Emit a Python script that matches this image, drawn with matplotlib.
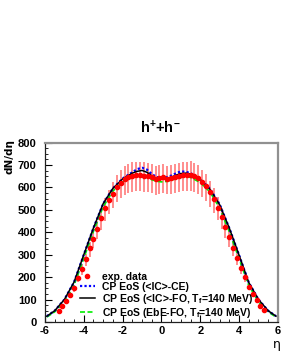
import matplotlib
matplotlib.use("Agg")
import matplotlib.pyplot as plt
from matplotlib.ticker import MultipleLocator

plt.rcParams['font.family'] = ['Liberation Sans', 'DejaVu Sans']
plt.rcParams['font.weight'] = 'bold'
plt.rcParams['axes.unicode_minus'] = False
plt.rcParams['mathtext.fontset'] = 'custom'
plt.rcParams['mathtext.rm'] = 'Liberation Sans:bold'
plt.rcParams['mathtext.bf'] = 'Liberation Sans:bold'
plt.rcParams['mathtext.it'] = 'Liberation Sans:bold'

# ---- experimental data ----
eta_data = [-5.3, -5.1, -4.9, -4.7, -4.5, -4.3, -4.1, -3.9, -3.7, -3.5, -3.3, -3.1,
            -2.9, -2.7, -2.5, -2.3, -2.1, -1.9, -1.7, -1.5, -1.3, -1.1, -0.9, -0.7,
            -0.5, -0.3, -0.1, 0.1, 0.3, 0.5, 0.7, 0.9, 1.1, 1.3, 1.5, 1.7, 1.9, 2.1,
            2.3, 2.5, 2.7, 2.9, 3.1, 3.3, 3.5, 3.7, 3.9, 4.1, 4.3, 4.5, 4.7, 4.9,
            5.1, 5.3]
dn_data = [50, 70, 95, 122, 152, 198, 238, 280, 328, 372, 415, 462,
           508, 542, 572, 602, 622, 638, 648, 653, 655, 655, 653, 650,
           645, 638, 642, 648, 640, 642, 645, 650, 655, 656, 657, 650, 641, 624,
           606, 578, 548, 510, 468, 422, 378, 332, 285, 242, 200, 158, 124, 96,
           72, 52]
rel_err_low = 0.11
rel_err_high = 0.09

# ---- model curves ----
eta_model = [-5.9, -5.5, -5.0, -4.5, -4.0, -3.5, -3.0, -2.5, -2.0, -1.5, -1.25, -1.0,
             -0.75, -0.5, -0.25, 0.0, 0.25, 0.5, 0.75, 1.0, 1.25, 1.5, 2.0, 2.5,
             3.0, 3.5, 4.0, 4.5, 5.0, 5.5, 5.9]
dn_ce = [26, 50, 100, 178, 300, 420, 528, 596, 640, 668, 682, 688,
         680, 660, 647, 642, 645, 653, 663, 672, 670, 664, 638, 594,
         525, 418, 298, 176, 100, 50, 26]
dn_fo = [26, 50, 100, 178, 300, 420, 528, 596, 638, 664, 672, 676,
         668, 652, 641, 637, 639, 646, 655, 662, 664, 660, 636, 592,
         523, 418, 298, 176, 100, 50, 26]
dn_ebe = [22, 45, 90, 164, 284, 405, 514, 584, 625, 645, 650, 650,
          645, 635, 628, 625, 627, 632, 640, 645, 648, 645, 622, 580,
          508, 402, 282, 162, 90, 45, 22]

fig = plt.figure(figsize=(2.81, 3.63), dpi=100)
ax = fig.add_axes([0.160, 0.113, 0.829, 0.494])

yerr = [[v * rel_err_low for v in dn_data], [v * rel_err_high for v in dn_data]]
ax.errorbar(eta_data, dn_data, yerr=yerr, fmt='none', ecolor='#ff7070',
            elinewidth=1.3, alpha=0.85, zorder=1)
ax.plot(eta_model, dn_ce, color='#0000ff', ls=(0, (1, 1)), lw=1.6, zorder=3,
        label='CP EoS (<IC>-CE)')
ax.plot(eta_model, dn_fo, color='black', ls='-', lw=1.1, zorder=4,
        label='CP EoS (<IC>-FO, T$_{\\mathrm{f}}$=140 MeV)')
ax.plot(eta_model, dn_ebe, color='#00ee00', ls=(0, (3, 1.5)), lw=1.2, zorder=2,
        label='CP EoS (EbE-FO, T$_{\\mathrm{f}}$=140 MeV)')
ax.plot(eta_data, dn_data, 'o', color='red', ms=3.0, zorder=5, label='exp. data')

handles, labels = ax.get_legend_handles_labels()
order = [3, 0, 1, 2]
leg = ax.legend([handles[i] for i in order], [labels[i] for i in order],
                loc='lower left', bbox_to_anchor=(0.14, 0.0), frameon=False,
                fontsize=7.5, handlelength=1.5, handletextpad=0.6,
                labelspacing=0.0, borderpad=0.2, borderaxespad=0.0)

ax.set_xlim(-6, 6)
ax.set_ylim(0, 800)
ax.xaxis.set_major_locator(MultipleLocator(2))
ax.xaxis.set_minor_locator(MultipleLocator(0.5))
ax.yaxis.set_major_locator(MultipleLocator(100))
ax.yaxis.set_minor_locator(MultipleLocator(25))
ax.tick_params(which='both', direction='in', top=False, right=False)
ax.tick_params(which='major', length=5, width=0.8)
ax.tick_params(which='minor', length=2.5, width=0.6)
ax.tick_params(axis='y', which='major', labelsize=8, pad=6)
ax.tick_params(axis='x', which='major', labelsize=8, pad=3)
for lab in ax.get_xticklabels() + ax.get_yticklabels():
    lab.set_fontweight('bold')

for s in ['top', 'right']:
    ax.spines[s].set_color('#909090')
    ax.spines[s].set_linewidth(1.6)
for s in ['left', 'bottom']:
    ax.spines[s].set_color('#202020')
    ax.spines[s].set_linewidth(0.9)

fig.text(0.57, 0.647, 'h$^{+}$+h$^{-}$', ha='center', va='center',
         fontsize=10.5, fontweight='bold')
fig.text(0.035, 0.617, 'dN/d\u03b7', rotation=90, ha='center', va='top',
         fontsize=7.5, fontweight='bold', family=['DejaVu Sans'])
fig.text(0.985, 0.05, '\u03b7', ha='center', va='center', fontsize=9,
         fontweight='normal', family=['DejaVu Sans'])

fig.savefig('out.png', dpi=100)
